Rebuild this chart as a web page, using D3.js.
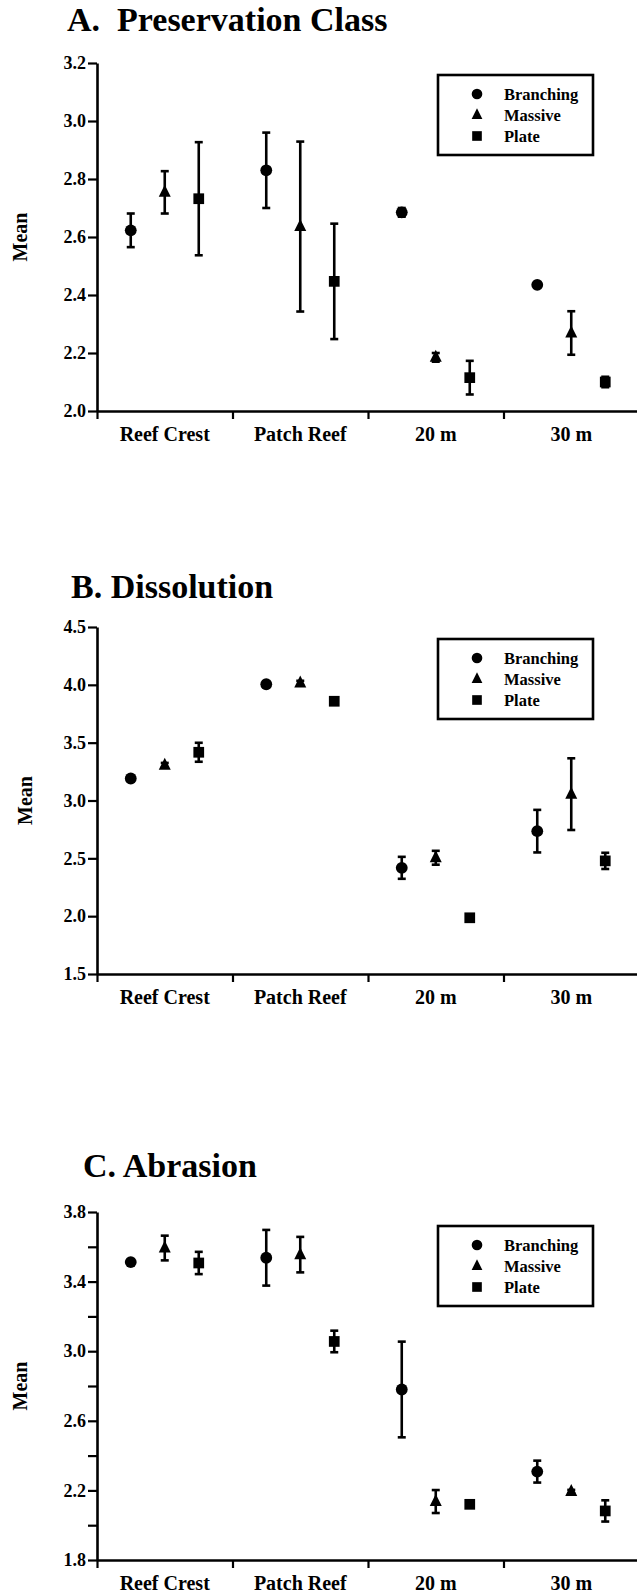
<!DOCTYPE html>
<html>
<head>
<meta charset="utf-8">
<script src="https://cdn.jsdelivr.net/npm/d3@7"></script>
<style>
	body { margin: 0; background: #fff; }
	svg text { font-family: "Liberation Serif", "Times New Roman", serif; font-weight: bold; fill: #000; }
</style>
</head>
<body>
<svg id="chart" width="637" height="1594"></svg>
<script>
// data
const categories = ["Reef Crest", "Patch Reef", "20 m", "30 m"];
const seriesNames = ["Branching", "Massive", "Plate"];

// A. Preservation Class
const presBranching = [2.623, 2.830, 2.685, 2.435];
const presBranchingErr = [0.058, 0.130, 0.015, 0.005];
const presMassive = [2.754, 2.636, 2.185, 2.269];
const presMassiveErr = [0.073, 0.293, 0.015, 0.075];
const presPlate = [2.732, 2.447, 2.115, 2.100];
const presPlateErr = [0.195, 0.199, 0.058, 0.018];
const presTicks = [2.0, 2.2, 2.4, 2.6, 2.8, 3.0, 3.2];
const presLabels = [2.0, 2.2, 2.4, 2.6, 2.8, 3.0, 3.2];

// B. Dissolution
const dissBranching = [3.190, 4.005, 2.418, 2.735];
const dissBranchingErr = [0.010, 0.010, 0.095, 0.184];
const dissMassive = [3.305, 4.015, 2.505, 3.055];
const dissMassiveErr = [0.020, 0.020, 0.060, 0.310];
const dissPlate = [3.417, 3.858, 1.986, 2.478];
const dissPlateErr = [0.082, 0.020, 0.030, 0.070];
const dissTicks = [1.5, 2.0, 2.5, 3.0, 3.5, 4.0, 4.5];
const dissLabels = [1.5, 2.0, 2.5, 3.0, 3.5, 4.0, 4.5];

// C. Abrasion
const abrBranching = [3.512, 3.537, 2.780, 2.308];
const abrBranchingErr = [0.010, 0.160, 0.275, 0.063];
const abrMassive = [3.593, 3.555, 2.136, 2.193];
const abrMassiveErr = [0.071, 0.102, 0.066, 0.010];
const abrPlate = [3.507, 3.056, 2.120, 2.082];
const abrPlateErr = [0.064, 0.062, 0.010, 0.061];
const abrTicks = [1.8, 2.0, 2.2, 2.4, 2.6, 2.8, 3.0, 3.2, 3.4, 3.6, 3.8];
const abrLabels = [1.8, 2.2, 2.6, 3.0, 3.4, 3.8];

const fontFamily = "'Liberation Serif', 'Times New Roman', serif";
const svg = d3.select("#chart");

const xLeft = 97;
const xRight = 639;

const xBand = d3.scaleBand().domain(categories).range([xLeft, xRight]);
const xInner = d3.scalePoint().domain(seriesNames).range([-34, 34]);

// triangle slightly taller than wide, like the original symbols
const trianglePath = "M0,-7.5L6,4.5L-6,4.5Z";
function markerPath(name){
	if (name === "Branching") return d3.symbol().type(d3.symbolCircle).size(110)();
	if (name === "Massive") return trianglePath;
	return d3.symbol().type(d3.symbolSquare).size(115)();
}

function plot_panel(opts){
	const g = svg.append("g");

	const yScale = d3.scaleLinear()
		.domain(opts.domain)
		.range([opts.bottom, opts.top]);

	// title
	g.append("text")
		.attr("x", opts.titleX)
		.attr("y", opts.titleY)
		.attr("xml:space", "preserve")
		.style("font-size", "34px")
		.text(opts.title);

	// y axis
	const yAxis = d3.axisLeft(yScale)
		.tickValues(opts.ticks)
		.tickSize(9)
		.tickSizeOuter(0)
		.tickPadding(2)
		.tickFormat(d => opts.labels.some(v => Math.abs(v - d) < 1e-9) ? d3.format(".1f")(d) : "");

	const yG = g.append("g")
		.attr("transform", "translate(" + xLeft + ",0)")
		.call(yAxis)
		.attr("font-family", fontFamily)
		.attr("font-size", 18)
		.attr("font-weight", "bold");
	yG.select(".domain").attr("stroke-width", 2.6);
	yG.selectAll(".tick line").attr("stroke-width", 2.2);
	yG.selectAll(".tick text")
		.style("font-size", "18px")
		.style("font-family", fontFamily)
		.attr("fill", "#000");

	// x axis, ticks at category boundaries
	const xEdges = d3.scaleLinear().domain([0, categories.length]).range([xLeft, xRight]);
	const xAxis = d3.axisBottom(xEdges)
		.tickValues(d3.range(categories.length + 1))
		.tickSize(8)
		.tickSizeOuter(0)
		.tickFormat("");

	const xG = g.append("g")
		.attr("transform", "translate(0," + opts.bottom + ")")
		.call(xAxis);
	xG.select(".domain").attr("stroke-width", 2.6);
	xG.selectAll(".tick line").attr("stroke-width", 2.2);

	g.selectAll(".catLabel")
		.data(categories)
		.enter()
		.append("text")
		.attr("class", "catLabel")
		.attr("text-anchor", "middle")
		.attr("x", d => xBand(d) + xBand.bandwidth() / 2)
		.attr("y", opts.bottom + 30)
		.style("font-size", "20px")
		.text(d => d);

	// y label
	g.append("text")
		.attr("transform", "translate(" + opts.meanX + "," + ((opts.top + opts.bottom) / 2) + ") rotate(-90)")
		.attr("text-anchor", "middle")
		.style("font-size", "20px")
		.text("Mean");

	// points with error bars
	const points = [];
	seriesNames.forEach(function(s, si){
		categories.forEach(function(c, ci){
			points.push({series: s, cat: c, mean: opts.means[si][ci], err: opts.errs[si][ci]});
		});
	});

	const px = d => xBand(d.cat) + xBand.bandwidth() / 2 + xInner(d.series);
	const capHalf = 4;

	const bars = g.append("g").selectAll("g")
		.data(points)
		.enter()
		.append("g")
		.attr("stroke", "#000")
		.attr("stroke-width", 2.6);

	bars.append("line")
		.attr("x1", px).attr("x2", px)
		.attr("y1", d => yScale(d.mean + d.err))
		.attr("y2", d => yScale(d.mean - d.err));
	bars.append("line")
		.attr("x1", d => px(d) - capHalf).attr("x2", d => px(d) + capHalf)
		.attr("y1", d => yScale(d.mean + d.err))
		.attr("y2", d => yScale(d.mean + d.err));
	bars.append("line")
		.attr("x1", d => px(d) - capHalf).attr("x2", d => px(d) + capHalf)
		.attr("y1", d => yScale(d.mean - d.err))
		.attr("y2", d => yScale(d.mean - d.err));

	g.append("g").selectAll("path")
		.data(points)
		.enter()
		.append("path")
		.attr("d", d => markerPath(d.series))
		.attr("transform", d => "translate(" + px(d) + "," + yScale(d.mean) + ")")
		.attr("fill", "#000");

	// legend
	const lg = g.append("g")
		.attr("transform", "translate(438," + (opts.top + opts.legendDy) + ")");
	lg.append("rect")
		.attr("width", 155)
		.attr("height", 80)
		.attr("fill", "none")
		.attr("stroke", "#000")
		.attr("stroke-width", 2.6);

	const rows = lg.selectAll(".legends")
		.data(seriesNames)
		.enter()
		.append("g")
		.attr("class", "legends")
		.attr("transform", (d, i) => "translate(0," + (19 + i * 21) + ")");
	rows.append("path")
		.attr("d", d => markerPath(d))
		.attr("transform", "translate(39,0) scale(0.9)")
		.attr("fill", "#000");
	rows.append("text")
		.attr("x", 66)
		.attr("y", 6)
		.style("font-size", "16.5px")
		.text(d => d);
}

plot_panel({
	title: "A.  Preservation Class", titleX: 67, titleY: 31,
	domain: [2.0, 3.2], top: 63, bottom: 411,
	ticks: presTicks, labels: presLabels,
	means: [presBranching, presMassive, presPlate],
	errs: [presBranchingErr, presMassiveErr, presPlateErr],
	meanX: 27, legendDy: 12
});

plot_panel({
	title: "B. Dissolution", titleX: 71, titleY: 598,
	domain: [1.5, 4.5], top: 627, bottom: 974,
	ticks: dissTicks, labels: dissLabels,
	means: [dissBranching, dissMassive, dissPlate],
	errs: [dissBranchingErr, dissMassiveErr, dissPlateErr],
	meanX: 32, legendDy: 12
});

plot_panel({
	title: "C. Abrasion", titleX: 83, titleY: 1177,
	domain: [1.8, 3.8], top: 1212, bottom: 1560,
	ticks: abrTicks, labels: abrLabels,
	means: [abrBranching, abrMassive, abrPlate],
	errs: [abrBranchingErr, abrMassiveErr, abrPlateErr],
	meanX: 27, legendDy: 14
});
</script>
</body>
</html>
